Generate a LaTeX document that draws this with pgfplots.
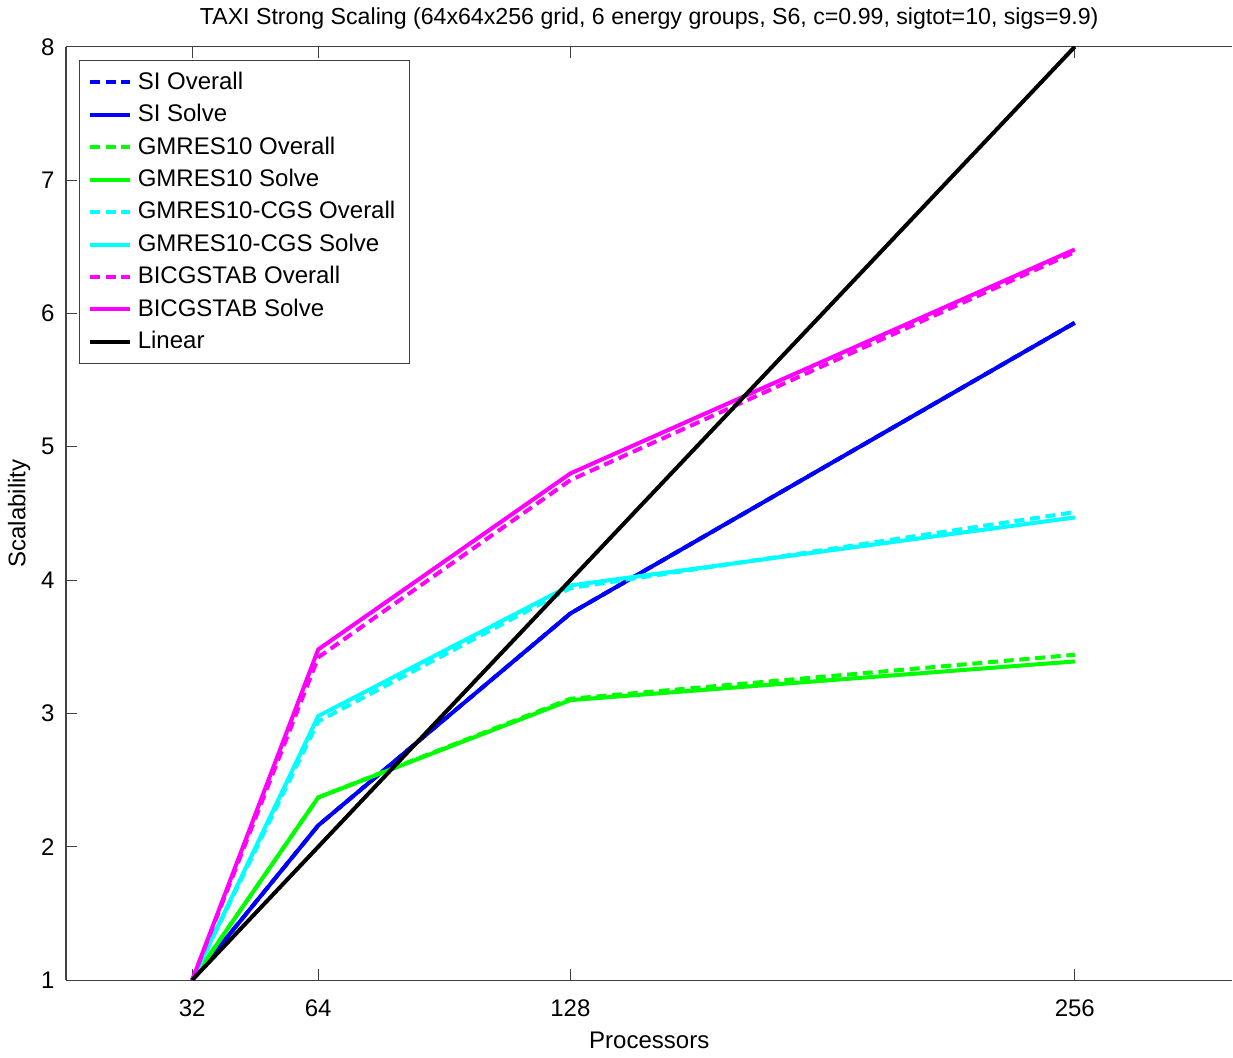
\documentclass[border=0pt]{standalone}
\usepackage{fontspec}
\setmainfont{Liberation Sans}
\usepackage{pgfplots}
\pgfplotsset{compat=1.18}
\definecolor{mblue}{RGB}{0,0,255}
\definecolor{mgreen}{RGB}{0,255,0}
\definecolor{mcyan}{RGB}{0,255,255}
\definecolor{mmagenta}{RGB}{255,0,255}

\begin{document}
\fontsize{8.4}{10}\selectfont
\begin{tikzpicture}
\begin{axis}[
  scale only axis,
  width=408pt, height=326.5pt,
  xmin=0, xmax=296, ymin=1, ymax=8,
  axis x line=box, axis y line=left,
  axis line style={black!75, line width=0.4pt, -},
  xtick={32,64,128,256},
  ytick={1,2,3,4,5,6,7,8},
  tick align=inside,
  major tick length=4pt,
  tick style={black!75, line width=0.4pt},
  /pgf/number format/assume math mode=true,
  ticklabel style={font=\fontsize{8.4}{10}\selectfont},
  xticklabel style={yshift=-4pt},
  yticklabel style={xshift=-1pt},
  xlabel={Processors}, ylabel={Scalability},
  label style={font=\fontsize{8.4}{10}\selectfont},
  xlabel style={yshift=0.5pt},
  ylabel style={yshift=-2pt},
  title={TAXI Strong Scaling (64x64x256 grid, 6 energy groups, S6, c=0.99, sigtot=10, sigs=9.9)},
  title style={font=\fontsize{8.1}{10}\selectfont, yshift=-3pt},
  legend style={at={(0.011,0.986)}, anchor=north west, draw=black!75,
    font=\fontsize{8.4}{10}\selectfont, row sep=0pt,
    inner xsep=3pt, inner ysep=2pt, cells={anchor=west}},
  legend image post style={line width=1.4pt},
  legend image code/.code={\draw[#1] (2.5pt,0pt) -- (16.5pt,0pt);},
  every axis plot/.append style={line width=1.4pt},
]
\addplot[mblue, dash pattern=on 3.5pt off 2pt] coordinates {(32,1)(64,2.16)(128,3.75)(256,5.93)};
\addlegendentry{SI Overall}
\addplot[mblue] coordinates {(32,1)(64,2.16)(128,3.75)(256,5.93)};
\addlegendentry{SI Solve}
\addplot[mgreen, dash pattern=on 3.5pt off 2pt] coordinates {(32,1)(64,2.37)(128,3.11)(256,3.44)};
\addlegendentry{GMRES10 Overall}
\addplot[mgreen] coordinates {(32,1)(64,2.37)(128,3.10)(256,3.39)};
\addlegendentry{GMRES10 Solve}
\addplot[mcyan, dash pattern=on 3.5pt off 2pt] coordinates {(32,1)(64,2.94)(128,3.94)(256,4.51)};
\addlegendentry{GMRES10-CGS Overall}
\addplot[mcyan] coordinates {(32,1)(64,2.98)(128,3.96)(256,4.47)};
\addlegendentry{GMRES10-CGS Solve}
\addplot[mmagenta, dash pattern=on 3.5pt off 2pt] coordinates {(32,1)(64,3.42)(128,4.75)(256,6.46)};
\addlegendentry{BICGSTAB Overall}
\addplot[mmagenta] coordinates {(32,1)(64,3.48)(128,4.80)(256,6.48)};
\addlegendentry{BICGSTAB Solve}
\addplot[black] coordinates {(32,1)(64,2)(128,4)(256,8)};
\addlegendentry{Linear}
\end{axis}
\end{tikzpicture}
\end{document}
